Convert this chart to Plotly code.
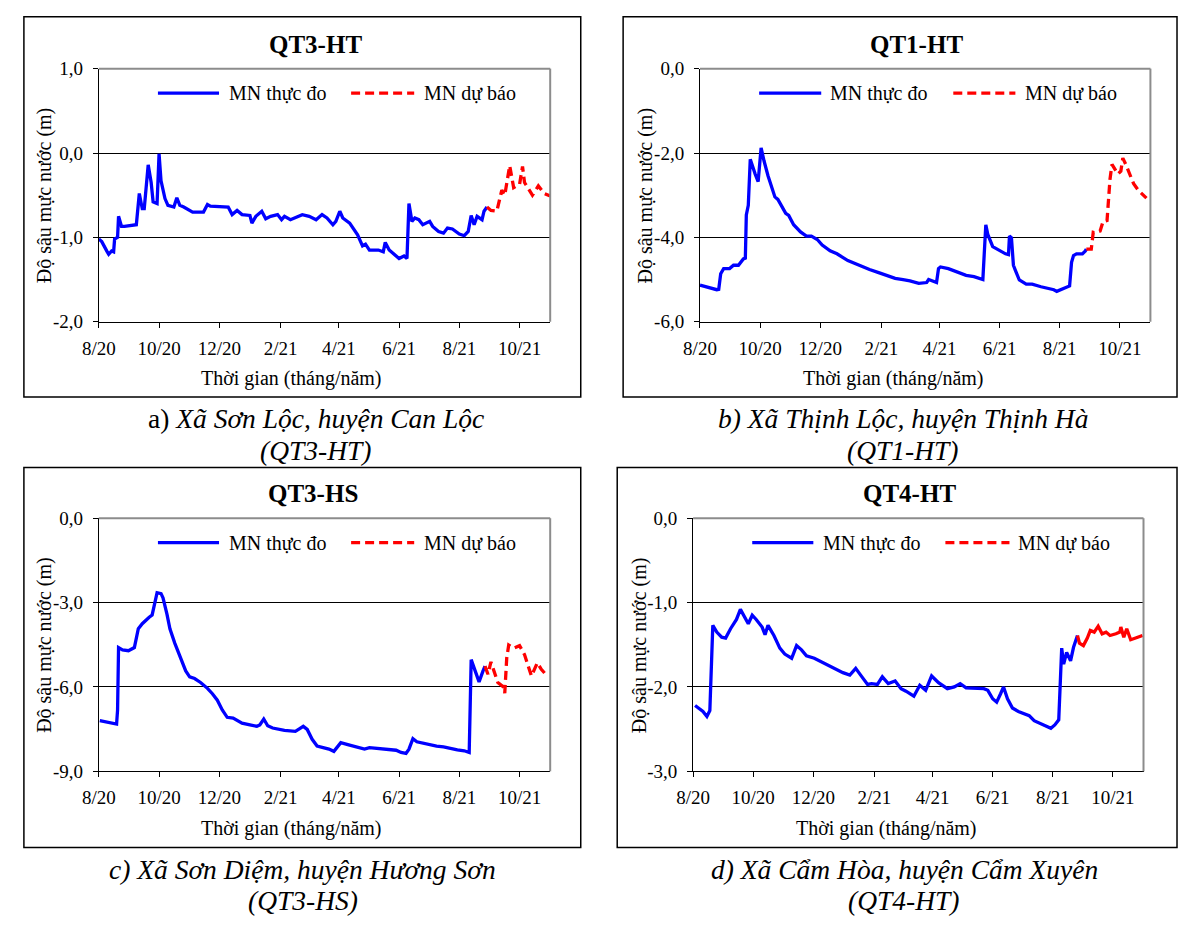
import pandas as pd
import plotly.graph_objects as go

# ---------------- data ----------------
START = "2020-08-01"
END = "2021-11-01"
tick_dates = ["2020-08-01", "2020-10-01", "2020-12-01", "2021-02-01",
              "2021-04-01", "2021-06-01", "2021-08-01", "2021-10-01"]
tick_labels = ["8/20", "10/20", "12/20", "2/21", "4/21", "6/21", "8/21", "10/21"]

titles = ["QT3-HT", "QT1-HT", "QT3-HS", "QT4-HT"]
y_ranges = [[-2, 1], [-6, 0], [-9, 0], [-3, 0]]
y_tickvals = [[1, 0, -1, -2], [0, -2, -4, -6], [0, -3, -6, -9], [0, -1, -2, -3]]
y_ticktext = [["1,0", "0,0", "-1,0", "-2,0"], ["0,0", "-2,0", "-4,0", "-6,0"],
              ["0,0", "-3,0", "-6,0", "-9,0"], ["0,0", "-1,0", "-2,0", "-3,0"]]
legend_names = ["MN thực đo", "MN dự báo"]
x_title = "Thời gian (tháng/năm)"
y_title = "Độ sâu mực nước (m)"
captions = [
    ["a) <i>Xã Sơn Lộc, huyện Can Lộc</i>", "<i>(QT3-HT)</i>"],
    ["<i>b) Xã Thịnh Lộc, huyện Thịnh Hà</i>", "<i>(QT1-HT)</i>"],
    ["<i>c) Xã Sơn Diệm, huyện Hương Sơn</i>", "<i>(QT3-HS)</i>"],
    ["<i>d) Xã Cẩm Hòa, huyện Cẩm Xuyên</i>", "<i>(QT4-HT)</i>"],
]

# days since 2020-08-01, water level depth (m)
a_obs_day = [0, 3, 8, 10, 13, 15, 16, 19, 20, 23, 26, 35, 38, 41, 44, 46, 50, 53, 55, 59,
             61, 63, 67, 70, 76, 79, 82, 86, 92, 95, 106, 110, 113, 131, 135, 140, 145, 153, 155, 159,
             165, 169, 174, 181, 185, 188, 194, 203, 206, 213, 220, 226, 231, 237, 240, 244, 247, 254, 262, 267,
             270, 274, 283, 288, 290, 294, 301, 304, 309, 312, 314, 317, 320, 324, 328, 331, 335, 338, 344, 349,
             353, 358, 361, 365, 370, 374, 377, 380, 383, 388, 390, 393]
a_obs_val = [-1.02, -1.05, -1.16, -1.20, -1.16, -1.17, -1.02, -1.00, -0.75, -0.87, -0.87, -0.86, -0.85, -0.48, -0.66, -0.66, -0.14, -0.35, -0.58, -0.60,
             -0.01, -0.33, -0.54, -0.62, -0.64, -0.53, -0.62, -0.64, -0.68, -0.70, -0.70, -0.61, -0.63, -0.64, -0.73, -0.68, -0.73, -0.74, -0.83, -0.75,
             -0.69, -0.78, -0.75, -0.73, -0.79, -0.75, -0.79, -0.75, -0.73, -0.75, -0.79, -0.73, -0.77, -0.85, -0.81, -0.69, -0.77, -0.83, -0.97, -1.10,
             -1.08, -1.15, -1.15, -1.17, -1.06, -1.15, -1.22, -1.25, -1.22, -1.25, -0.60, -0.81, -0.77, -0.79, -0.85, -0.83, -0.81, -0.87, -0.93, -0.95,
             -0.89, -0.90, -0.93, -0.96, -0.98, -0.93, -0.74, -0.85, -0.75, -0.79, -0.69, -0.64]
a_fc_day = [393, 397, 403, 408, 411, 416, 420, 426, 429, 431, 439, 445, 451, 457]
a_fc_val = [-0.64, -0.68, -0.69, -0.44, -0.50, -0.15, -0.41, -0.37, -0.16, -0.35, -0.50, -0.39, -0.48, -0.51]

b_obs_day = [0, 6, 17, 19, 21, 24, 30, 34, 39, 44, 46, 47, 49, 51, 52, 56, 59, 62, 65, 69,
             76, 79, 87, 90, 95, 102, 108, 113, 119, 124, 132, 139, 150, 161, 172, 182, 189, 198, 206, 213,
             222, 230, 232, 237, 240, 242, 244, 252, 261, 270, 278, 287, 290, 292, 297, 303, 310, 313, 314, 316,
             318, 320, 324, 331, 337, 346, 351, 359, 362, 366, 372, 375, 377, 379, 382, 388, 391, 392]
b_obs_val = [-5.13, -5.17, -5.24, -5.23, -4.86, -4.74, -4.74, -4.66, -4.66, -4.51, -4.49, -3.47, -3.24, -2.15, -2.23, -2.50, -2.68, -1.88, -2.19, -2.54,
             -3.04, -3.10, -3.43, -3.48, -3.70, -3.87, -3.97, -3.97, -4.05, -4.18, -4.32, -4.39, -4.55, -4.66, -4.76, -4.84, -4.90, -4.97, -5.00, -5.03,
             -5.09, -5.07, -5.00, -5.05, -5.07, -4.74, -4.70, -4.74, -4.82, -4.90, -4.93, -5.00, -3.70, -3.93, -4.22, -4.30, -4.39, -4.41, -3.97, -4.01,
             -4.66, -4.78, -5.01, -5.11, -5.11, -5.17, -5.20, -5.24, -5.28, -5.24, -5.18, -5.15, -4.59, -4.43, -4.39, -4.39, -4.32, -4.28]
b_fc_day = [392, 397, 399, 401, 406, 409, 413, 414, 416, 418, 421, 424, 427, 429, 432, 440, 445, 453]
b_fc_val = [-4.28, -4.28, -3.88, -3.89, -3.85, -3.62, -3.60, -3.24, -2.62, -2.27, -2.39, -2.50, -2.43, -2.12, -2.27, -2.73, -2.89, -3.07]

c_obs_day = [1, 10, 18, 19, 20, 24, 30, 36, 40, 44, 47, 51, 54, 59, 63, 65, 69, 72, 77, 83,
             88, 92, 97, 103, 110, 115, 120, 125, 130, 136, 145, 153, 160, 163, 167, 171, 176, 188, 199, 203,
             207, 211, 216, 221, 228, 233, 238, 242, 245, 253, 260, 269, 274, 281, 292, 301, 306, 311, 314, 318,
             322, 328, 335, 342, 349, 356, 363, 370, 375, 377, 381, 385, 389, 391]
c_obs_val = [-7.20, -7.26, -7.32, -6.82, -4.60, -4.68, -4.71, -4.60, -3.93, -3.75, -3.64, -3.52, -3.44, -2.65, -2.68, -2.83, -3.41, -3.93, -4.45, -5.03,
             -5.43, -5.64, -5.70, -5.84, -6.05, -6.24, -6.47, -6.82, -7.08, -7.11, -7.29, -7.35, -7.40, -7.35, -7.14, -7.38, -7.46, -7.54, -7.58, -7.49,
             -7.40, -7.51, -7.86, -8.10, -8.16, -8.21, -8.29, -8.10, -7.98, -8.06, -8.12, -8.21, -8.16, -8.19, -8.21, -8.25, -8.33, -8.36, -8.21, -7.84,
             -7.95, -8.00, -8.04, -8.10, -8.13, -8.19, -8.24, -8.27, -8.33, -5.03, -5.43, -5.82, -5.43, -5.26]
c_fc_day = [391, 394, 397, 400, 404, 410, 411, 413, 415, 420, 426, 431, 438, 444, 448, 454]
c_fc_val = [-5.26, -5.55, -5.11, -5.43, -5.84, -6.01, -6.22, -4.97, -4.51, -4.62, -4.53, -4.85, -5.61, -5.14, -5.37, -5.61]

d_obs_day = [2, 7, 10, 14, 17, 20, 24, 29, 33, 38, 44, 48, 51, 56, 60, 64, 70, 73, 76, 82,
             88, 93, 100, 105, 110, 115, 123, 130, 141, 152, 159, 165, 170, 177, 181, 187, 192, 198, 205, 211,
             216, 224, 230, 236, 242, 249, 258, 265, 271, 277, 295, 299, 304, 308, 312, 315, 319, 324, 330, 341,
             346, 354, 363, 367, 371, 374, 376, 379, 383, 386, 390]
d_obs_val = [-2.22, -2.27, -2.29, -2.35, -2.28, -1.27, -1.35, -1.41, -1.42, -1.31, -1.20, -1.08, -1.15, -1.25, -1.15, -1.20, -1.29, -1.38, -1.27, -1.39,
             -1.54, -1.61, -1.66, -1.51, -1.56, -1.63, -1.66, -1.70, -1.77, -1.83, -1.86, -1.78, -1.86, -1.97, -1.96, -1.97, -1.88, -1.96, -1.93, -2.02,
             -2.05, -2.11, -1.98, -2.04, -1.87, -1.95, -2.02, -2.00, -1.96, -2.01, -2.02, -2.04, -2.14, -2.18, -2.08, -2.00, -2.14, -2.25, -2.29, -2.34,
             -2.40, -2.44, -2.49, -2.45, -2.39, -1.54, -1.73, -1.59, -1.69, -1.53, -1.39]
d_fc_day = [390, 392, 396, 400, 403, 407, 411, 415, 419, 423, 429, 433, 434, 437, 440, 444, 449, 456]
d_fc_val = [-1.39, -1.48, -1.51, -1.42, -1.33, -1.35, -1.28, -1.37, -1.35, -1.39, -1.37, -1.35, -1.29, -1.41, -1.31, -1.44, -1.42, -1.39]

series = [
    (a_obs_day, a_obs_val, a_fc_day, a_fc_val),
    (b_obs_day, b_obs_val, b_fc_day, b_fc_val),
    (c_obs_day, c_obs_val, c_fc_day, c_fc_val),
    (d_obs_day, d_obs_val, d_fc_day, d_fc_val),
]
fc_dash = ["9px,5px", "9px,5px", "9px,5px", "solid"]

# ---------------- layout geometry (pixels) ----------------
W, H = 1178, 926
FONT = "Liberation Serif"
BLUE = "#0000FF"
RED = "#FF0000"

plot_px = [(83, 541, 60, 319), (693, 1150, 60, 319), (83, 541, 520, 779), (686, 1143, 520, 779)]
box_px = [(7, 572, 7, 396), (615, 1177, 7, 396), (7, 572, 468, 857), (609, 1177, 468, 857)]
title_px = [(303, 35), (913, 35), (300, 495), (906, 495)]
xtitle_px = [(279, 377), (889, 377), (279, 837), (882, 837)]
ytitle_px = [(28, 190), (638, 190), (28, 650), (631, 650)]
leg_px = [(143, 205, 213, 339, 403, 411, 85), (753, 816, 823, 950, 1013, 1021, 85),
          (143, 205, 213, 339, 403, 411, 545), (746, 808, 816, 942, 1007, 1014, 545)]
cap_px = [(303, 418, 451), (899, 418, 451), (290, 879, 911), (900, 879, 911)]


def fx(x):
    return x / W


def fy(y):
    return 1 - y / H


def to_dates(days):
    return pd.Timestamp(START) + pd.to_timedelta(days, unit="D")


fig = go.Figure()
shapes = []
annotations = []
layout = {}

for i in range(4):
    k = "" if i == 0 else str(i + 1)
    xa, ya = "x" + k, "y" + k
    od, ov, fd, fv = series[i]
    fig.add_trace(go.Scatter(x=to_dates(od), y=ov, mode="lines", xaxis=xa, yaxis=ya,
                             line=dict(color=BLUE, width=3.3), showlegend=False,
                             name=legend_names[0]))
    fig.add_trace(go.Scatter(x=to_dates(fd), y=fv, mode="lines", xaxis=xa, yaxis=ya,
                             line=dict(color=RED, width=3.3, dash=fc_dash[i]), showlegend=False,
                             name=legend_names[1]))

    x0, x1, y0, y1 = plot_px[i]
    layout["xaxis" + k] = dict(
        domain=[fx(x0), fx(x1)], anchor=ya, type="date", range=[START, END],
        tickmode="array", tickvals=tick_dates, ticktext=tick_labels,
        ticks="outside", ticklen=5, tickwidth=1, tickcolor="black",
        showline=True, linecolor="black", linewidth=1, showgrid=False, zeroline=False,
        tickfont=dict(family=FONT, size=19, color="black"), ticklabelstandoff=4,
    )
    layout["yaxis" + k] = dict(
        domain=[fy(y1), fy(y0)], anchor=xa, range=y_ranges[i],
        tickmode="array", tickvals=y_tickvals[i], ticktext=y_ticktext[i],
        ticks="outside", ticklen=5, tickwidth=1, tickcolor="black",
        showline=True, linecolor="black", linewidth=1,
        showgrid=True, gridcolor="black", gridwidth=1, zeroline=False,
        tickfont=dict(family=FONT, size=19, color="black"), ticklabelstandoff=6,
    )
    # gray top/right frame of the plot area
    shapes.append(dict(type="line", xref=xa + " domain", yref=ya + " domain",
                       x0=0, x1=1, y0=1, y1=1, line=dict(color="#8C8C8C", width=2)))
    shapes.append(dict(type="line", xref=xa + " domain", yref=ya + " domain",
                       x0=1, x1=1, y0=0, y1=1, line=dict(color="#8C8C8C", width=2)))
    # outer panel box
    bx0, bx1, by0, by1 = box_px[i]
    shapes.append(dict(type="rect", xref="paper", yref="paper",
                       x0=fx(bx0), x1=fx(bx1), y0=fy(by1), y1=fy(by0),
                       line=dict(color="black", width=1.5)))
    # legend samples
    lb0, lb1, lbt, lr0, lr1, lrt, ly = leg_px[i]
    shapes.append(dict(type="line", xref="paper", yref="paper", x0=fx(lb0), x1=fx(lb1),
                       y0=fy(ly), y1=fy(ly), line=dict(color=BLUE, width=3.3)))
    shapes.append(dict(type="line", xref="paper", yref="paper", x0=fx(lr0), x1=fx(lr1),
                       y0=fy(ly), y1=fy(ly), line=dict(color=RED, width=3.3, dash="9px,5px")))
    annotations.append(dict(text=legend_names[0], x=fx(lbt), y=fy(ly), xref="paper", yref="paper",
                            xanchor="left", yanchor="middle", showarrow=False,
                            font=dict(family=FONT, size=20, color="black")))
    annotations.append(dict(text=legend_names[1], x=fx(lrt), y=fy(ly), xref="paper", yref="paper",
                            xanchor="left", yanchor="middle", showarrow=False,
                            font=dict(family=FONT, size=20, color="black")))
    # title
    tx, ty = title_px[i]
    annotations.append(dict(text="<b>" + titles[i] + "</b>", x=fx(tx), y=fy(ty), xref="paper", yref="paper",
                            xanchor="center", yanchor="middle", showarrow=False,
                            font=dict(family=FONT, size=25, color="black")))
    # axis titles
    ax, ay = xtitle_px[i]
    annotations.append(dict(text=x_title, x=fx(ax), y=fy(ay), xref="paper", yref="paper",
                            xanchor="center", yanchor="middle", showarrow=False,
                            font=dict(family=FONT, size=20, color="black")))
    vx, vy = ytitle_px[i]
    annotations.append(dict(text=y_title, x=fx(vx), y=fy(vy), xref="paper", yref="paper",
                            xanchor="center", yanchor="middle", showarrow=False, textangle=-90,
                            font=dict(family=FONT, size=20, color="black")))
    # captions
    cx, c1, c2 = cap_px[i]
    for txt, cy in zip(captions[i], (c1, c2)):
        annotations.append(dict(text=txt, x=fx(cx), y=fy(cy), xref="paper", yref="paper",
                                xanchor="center", yanchor="middle", showarrow=False,
                                font=dict(family=FONT, size=27.5, color="black")))

fig.update_layout(
    width=W, height=H, margin=dict(l=0, r=0, t=0, b=0),
    paper_bgcolor="white", plot_bgcolor="white", showlegend=False,
    shapes=shapes, annotations=annotations, **layout,
)

fig.write_html("out.html",
               config={"displayModeBar": False, "staticPlot": True},
               post_script="document.body.style.margin='0';document.body.style.overflow='hidden';")
